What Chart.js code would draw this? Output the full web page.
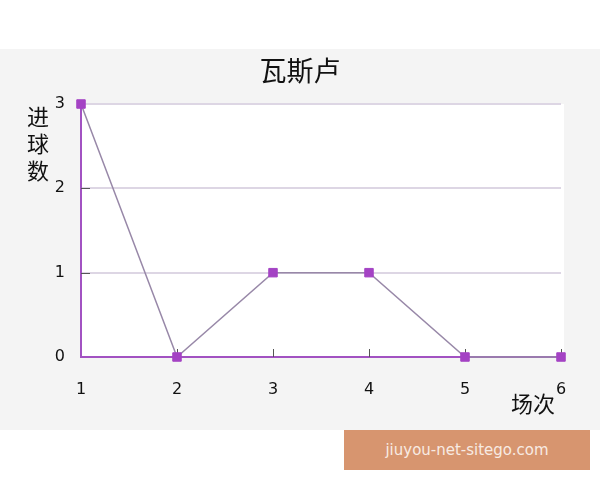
<!DOCTYPE html>
<html>
<head>
<meta charset="utf-8">
<script src="https://cdn.jsdelivr.net/npm/chart.js@4/dist/chart.umd.min.js"></script>
<style>
    body { margin: 0; background: #fff; width: 600px; height: 480px; position: relative; overflow: hidden; }
    #wrap { position: absolute; left: 0; top: 49px; width: 600px; height: 381px; background: #f4f4f4; }
    #mark {
        position: absolute; left: 344px; top: 430px; width: 246px; height: 40px;
        background: #d7956f; color: #f7ebe3; font: 15px "DejaVu Sans", sans-serif;
        line-height: 40px; text-align: center;
    }
</style>
</head>
<body>
<div id="wrap"><canvas id="myChart" width="600" height="381"></canvas></div>
<div id="mark">jiuyou-net-sitego.com</div>
<script>
// 場次 / 進球數
var match_labels = [1, 2, 3, 4, 5, 6];
var goals = [3, 0, 1, 1, 0, 0];
var y_ticks = [0, 1, 2, 3];
var title_text = "瓦斯卢";
var y_title = ["进", "球", "数"];
var x_title = "场次";

var points = match_labels.map(function (m, i) { return { x: m, y: goals[i] }; });

// 白色绘图区 + 内侧刻度 + 标题
const plotDecor = {
    id: 'plotDecor',
    beforeDraw: function (chart) {
        const a = chart.chartArea;
        const ctx = chart.ctx;
        ctx.save();
        ctx.fillStyle = '#ffffff';
        ctx.fillRect(a.left, a.top, a.right - a.left + 3, a.bottom - a.top);
        ctx.restore();
    },
    beforeDatasetsDraw: function (chart) {
        const ctx = chart.ctx;
        const xs = chart.scales.x, ys = chart.scales.y;
        ctx.save();
        ctx.strokeStyle = '#555555';
        ctx.lineWidth = 1;
        ctx.beginPath();
        match_labels.slice(1).forEach(function (m) {
            const px = Math.round(xs.getPixelForValue(m)) + 0.5;
            ctx.moveTo(px, ys.bottom);
            ctx.lineTo(px, ys.bottom - 8);
        });
        y_ticks.slice(1, -1).forEach(function (v) {
            const py = Math.round(ys.getPixelForValue(v)) + 0.5;
            ctx.moveTo(xs.left, py);
            ctx.lineTo(xs.left + 9, py);
        });
        ctx.stroke();
        ctx.restore();
    },
    afterDraw: function (chart) {
        const ctx = chart.ctx;
        ctx.save();
        ctx.fillStyle = '#111111';
        ctx.textAlign = 'center';
        ctx.textBaseline = 'middle';
        ctx.font = '27px "Noto Sans CJK SC"';
        ctx.fillText(title_text, chart.width / 2, 22);
        ctx.font = '22px "Noto Sans CJK SC"';
        y_title.forEach(function (ch, i) {
            ctx.fillText(ch, 38, 68 + i * 27);
        });
        ctx.fillText(x_title, 533, 355);
        ctx.restore();
    }
};

const config = {
    type: 'line',
    data: {
        datasets: [{
            data: points,
            clip: false,
            borderColor: '#9888a8',
            borderWidth: 1.5,
            tension: 0,
            pointStyle: 'rect',
            pointRadius: 6,
            pointBackgroundColor: '#a443c4',
            pointBorderColor: '#a443c4',
            pointBorderWidth: 1,
        }],
    },
    options: {
        responsive: false,
        animation: false,
        layout: { padding: { left: 0, right: 39, top: 55, bottom: 0 } },
        plugins: {
            legend: { display: false },
            tooltip: { enabled: false },
            title: { display: false },
        },
        scales: {
            x: {
                type: 'linear',
                min: 1,
                max: 6,
                afterFit: function (scale) { scale.height = 73; },
                afterBuildTicks: function (scale) {
                    scale.ticks = match_labels.map(function (v) { return { value: v }; });
                },
                grid: { display: false, drawTicks: false },
                border: { display: true, color: '#a252c2', width: 2 },
                ticks: {
                    color: '#111111',
                    padding: 23,
                    font: { family: '"DejaVu Sans"', size: 16 },
                },
            },
            y: {
                min: 0,
                max: 3,
                afterFit: function (scale) { scale.width = 81; },
                afterBuildTicks: function (scale) {
                    scale.ticks = y_ticks.map(function (v) { return { value: v }; });
                },
                grid: {
                    drawTicks: false,
                    color: function (c) { return c.tick && c.tick.value === 0 ? 'rgba(0,0,0,0)' : '#ddd6e4'; },
                    lineWidth: 2,
                },
                border: { display: true, color: '#a252c2', width: 2 },
                ticks: {
                    color: '#111111',
                    padding: 16,
                    font: { family: '"DejaVu Sans"', size: 16 },
                },
            },
        },
    },
    plugins: [plotDecor],
};

const myChart = new Chart(document.getElementById('myChart'), config);
</script>
</body>
</html>
